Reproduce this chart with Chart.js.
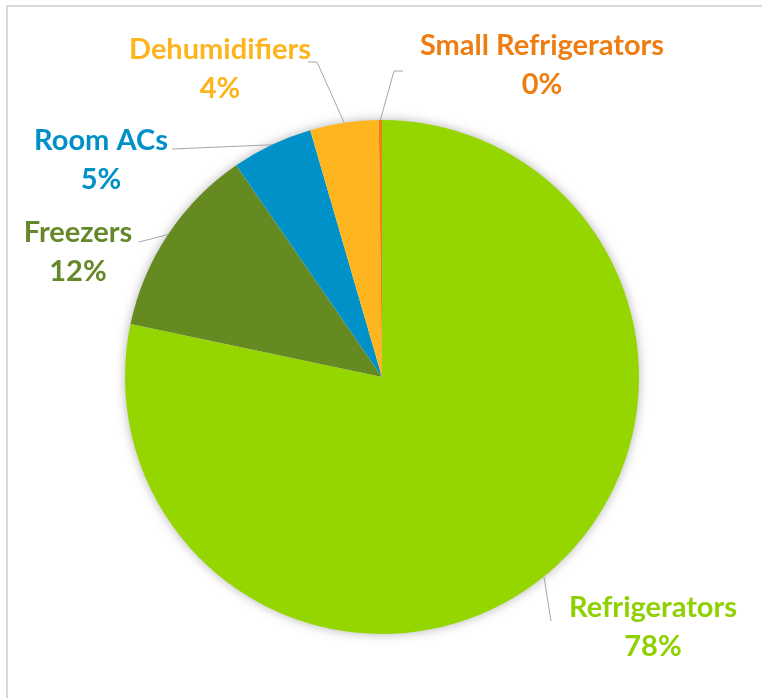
<!DOCTYPE html>
<html>
<head>
<meta charset="utf-8">
<script src="https://cdn.jsdelivr.net/npm/chart.js@4/dist/chart.umd.min.js"></script>
<style>
    html, body { margin: 0; padding: 0; background: #fff; overflow: hidden; }
    #wrap { position: relative; width: 762px; height: 698px; }
    #frame { position: absolute; left: 6px; top: 5px; width: 900px; height: 900px;
             border-top: 2px solid #d9d9d9; border-left: 2px solid #d9d9d9; box-sizing: border-box; }
    canvas { position: absolute; left: 0; top: 0; }
</style>
</head>
<body>
<div id="wrap">
    <div id="frame"></div>
    <canvas id="pie" width="762" height="698"></canvas>
</div>
<script>
// Appliance share of the total
const categories = ['Refrigerators', 'Freezers', 'Room ACs', 'Dehumidifiers', 'Small Refrigerators'];
const shares = [78.3, 12.1, 5.1, 4.3, 0.2];
const sliceColors = ['#96D600', '#668A22', '#0091C9', '#FFB51F', '#EF7D1A'];
const textColors = ['#8FD000', '#65882A', '#0090C8', '#FDB41E', '#EE7D12'];

// Label placement: name line, percent line below it, leader line bend points
const labelLayout = [
    { x: 653, y: 608, leader: [[551, 621]] },
    { x: 78, y: 233, leader: [[139, 242]] },
    { x: 101, y: 141, leader: [[172, 149]] },
    { x: 220, y: 50, leader: [[317, 62], [308, 62]] },
    { x: 542, y: 46, leader: [[394, 71], [403, 71]] }
];

const theme = {
    font: "bold 29px Lato, 'Open Sans', sans-serif",
    leader: '#a6a6a6',
    shadow: 'rgba(0,0,0,0.35)'
};

const pieShadow = {
    id: 'pieShadow',
    beforeDatasetsDraw(chart) {
        const arc = chart.getDatasetMeta(0).data[0];
        if (!arc) return;
        const ctx = chart.ctx;
        ctx.save();
        ctx.shadowColor = theme.shadow;
        ctx.shadowBlur = 12;
        ctx.fillStyle = '#fff';
        ctx.beginPath();
        ctx.arc(arc.x, arc.y, arc.outerRadius - 1, 0, Math.PI * 2);
        ctx.fill();
        ctx.restore();
    }
};

const pieLabels = {
    id: 'pieLabels',
    afterDatasetsDraw(chart) {
        const ctx = chart.ctx;
        const data = chart.data.datasets[0].data;
        const total = data.reduce((a, b) => a + b, 0);
        chart.getDatasetMeta(0).data.forEach((arc, i) => {
            const lay = labelLayout[i];
            const mid = (arc.startAngle + arc.endAngle) / 2;
            const px = arc.x + Math.cos(mid) * arc.outerRadius;
            const py = arc.y + Math.sin(mid) * arc.outerRadius;

            ctx.save();
            ctx.strokeStyle = theme.leader;
            ctx.lineWidth = 1;
            ctx.beginPath();
            ctx.moveTo(px, py);
            lay.leader.forEach(p => ctx.lineTo(p[0], p[1]));
            ctx.stroke();

            ctx.fillStyle = textColors[i];
            ctx.font = theme.font;
            ctx.textAlign = 'center';
            ctx.textBaseline = 'middle';
            ctx.fillText(categories[i], lay.x, lay.y);
            ctx.fillText(Math.round(data[i] / total * 100) + '%', lay.x, lay.y + 39);
            ctx.restore();
        });
    }
};

new Chart(document.getElementById('pie'), {
    type: 'pie',
    data: {
        labels: categories,
        datasets: [{
            data: shares,
            backgroundColor: sliceColors,
            borderWidth: 0
        }]
    },
    options: {
        responsive: false,
        animation: false,
        layout: { padding: { top: 120, bottom: 64, left: 125, right: 123 } },
        plugins: {
            legend: { display: false },
            tooltip: { enabled: false }
        }
    },
    plugins: [pieShadow, pieLabels]
});
</script>
</body>
</html>
